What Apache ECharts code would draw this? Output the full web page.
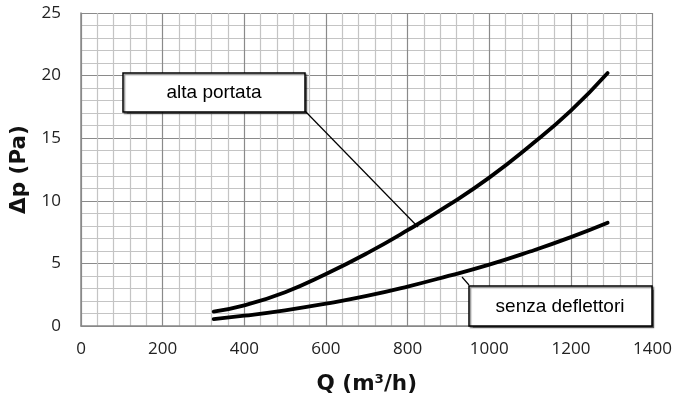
<!DOCTYPE html>
<html>
<head>
<meta charset="utf-8">
<script src="https://cdn.jsdelivr.net/npm/echarts@6/dist/echarts.min.js"></script>
<style>html,body{margin:0;padding:0;background:#fff}#c{width:675px;height:400px}</style>
</head>
<body>
<div id="c"></div>
<script>
const qAlta = [325, 400, 500, 600, 700, 800, 900, 1000, 1100, 1200, 1290];
const dpAlta = [1.15, 1.65, 2.7, 4.15, 5.8, 7.65, 9.65, 11.85, 14.4, 17.2, 20.2];
const qSenza = [325, 400, 500, 600, 700, 800, 900, 1000, 1100, 1200, 1290];
const dpSenza = [0.55, 0.82, 1.25, 1.78, 2.4, 3.15, 4.0, 4.9, 5.95, 7.1, 8.25];
const seriesNames = ['alta portata', 'senza deflettori'];
const xTitle = 'Q (m³/h)';
const yTitle = 'Δp (Pa)';

const chart = echarts.init(document.getElementById('c'), null, {renderer: 'canvas'});
const tickFont = {fontFamily: 'Open Sans', fontSize: 17, color: '#222'};
const titleFont = {fontFamily: 'DejaVu Sans', fontSize: 21.5, fontWeight: 'bold', color: '#111'};

chart.setOption({
  animation: false,
  backgroundColor: '#fff',
  grid: {left: 81, right: 21, top: 13, bottom: 72, containLabel: false},
  xAxis: {
    type: 'value', min: 0, max: 1400, interval: 200,
    name: xTitle, nameLocation: 'middle', nameGap: 47, nameTextStyle: titleFont,
    axisLine: {show: true, lineStyle: {color: '#888', width: 1.5}},
    axisTick: {show: false},
    axisLabel: Object.assign({margin: 15, formatter: v => String(v)}, tickFont),
    splitLine: {show: true, lineStyle: {color: '#8a8a8a', width: 1.2}},
    minorTick: {show: false, splitNumber: 5},
    minorSplitLine: {show: true, lineStyle: {color: '#c4c4c4', width: 1.2}}
  },
  yAxis: {
    type: 'value', min: 0, max: 25, interval: 5,
    name: yTitle, nameLocation: 'middle', nameGap: 47, nameTextStyle: titleFont,
    axisLine: {show: true, lineStyle: {color: '#888', width: 1.5}},
    axisTick: {show: false},
    axisLabel: Object.assign({margin: 20, formatter: v => String(v)}, tickFont),
    splitLine: {show: true, lineStyle: {color: '#8a8a8a', width: 1.2}},
    minorTick: {show: false, splitNumber: 5},
    minorSplitLine: {show: true, lineStyle: {color: '#c4c4c4', width: 1.2}}
  },
  series: [
    {name: seriesNames[0], type: 'line', smooth: true, showSymbol: false,
     data: qAlta.map((q, i) => [q, dpAlta[i]]),
     lineStyle: {color: '#000', width: 3.8, cap: 'round'}, z: 5},
    {name: seriesNames[1], type: 'line', smooth: true, showSymbol: false,
     data: qSenza.map((q, i) => [q, dpSenza[i]]),
     lineStyle: {color: '#000', width: 3.8, cap: 'round'}, z: 5}
  ],
  graphic: [
    {type: 'line', z: 10, shape: {x1: 305, y1: 111, x2: 418, y2: 227}, style: {stroke: '#000', lineWidth: 1.2}},
    {type: 'line', z: 10, shape: {x1: 469, y1: 285, x2: 462, y2: 277}, style: {stroke: '#000', lineWidth: 1.2}},
    {type: 'rect', z: 11, shape: {x: 123, y: 73, width: 182, height: 39},
     style: {fill: '#fff', stroke: '#000', lineWidth: 1.5, shadowColor: 'rgba(0,0,0,0.45)', shadowOffsetX: 1.5, shadowOffsetY: 1.5, shadowBlur: 1}},
    {type: 'text', z: 12, x: 214, y: 93, style: {text: seriesNames[0], font: '19px "Liberation Sans"', fill: '#000', align: 'center', verticalAlign: 'middle'}},
    {type: 'rect', z: 11, shape: {x: 469, y: 286, width: 183, height: 40},
     style: {fill: '#fff', stroke: '#000', lineWidth: 1.5, shadowColor: 'rgba(0,0,0,0.45)', shadowOffsetX: 1.5, shadowOffsetY: 1.5, shadowBlur: 1}},
    {type: 'text', z: 12, x: 560, y: 307, style: {text: seriesNames[1], font: '19px "Liberation Sans"', fill: '#000', align: 'center', verticalAlign: 'middle'}}
  ]
});
</script>
</body>
</html>
